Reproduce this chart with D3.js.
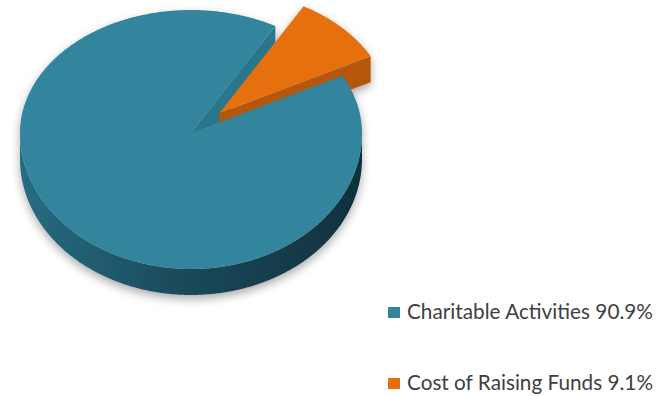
<!DOCTYPE html>
<html>
<head>
<meta charset="utf-8">
<script src="https://cdn.jsdelivr.net/npm/d3@7"></script>
<style>
  html, body { margin: 0; padding: 0; background: #ffffff; }
  svg { display: block; }
</style>
</head>
<body>
<svg id="chart" width="671" height="396"></svg>
<script>
// ---- data ----
const categories = ["Charitable Activities", "Cost of Raising Funds"];
const values = [90.9, 9.1];
const valueLabels = ["90.9%", "9.1%"];

// ---- style / layout ----
const topColors = ["#31859C", "#E66F0C"];
const cutColors = ["#29768C", "#B5560A"];
const explodeBy = [0, 0.23];
const W = 671, H = 396;
const cx = 191, cy = 133, rx = 171, ryTop = 123, ryBot = 136, depth = 26;
const startDeg = 62.3;

const svg = d3.select("#chart");
const defs = svg.append("defs");

const f = defs.append("filter").attr("id", "shadow")
  .attr("x", "-20%").attr("y", "-20%").attr("width", "140%").attr("height", "140%");
f.append("feDropShadow").attr("dx", 0).attr("dy", 4).attr("stdDeviation", 5)
  .attr("flood-color", "#000").attr("flood-opacity", 0.33);

const grads = [
  [["0", "#276C82"], ["0.45", "#1B4B5C"], ["1", "#10303C"]],
  [["0", "#C45E0B"], ["1", "#9C4808"]]
];
grads.forEach((stops, i) => {
  const g = defs.append("linearGradient").attr("id", "wall" + i)
    .attr("gradientUnits", "userSpaceOnUse")
    .attr("x1", cx - rx).attr("y1", 0).attr("x2", cx + rx).attr("y2", 0);
  stops.forEach(s => g.append("stop").attr("offset", s[0]).attr("stop-color", s[1]));
});

const start = startDeg * Math.PI / 180;
const arcs = d3.pie().sort(null).startAngle(start).endAngle(start + 2 * Math.PI)(values);

function ryAt(a) { return Math.cos(a) >= 0 ? ryTop : ryBot; }
function P(a, r, z, off) {
  return [cx + off[0] + r * rx * Math.sin(a), cy + off[1] - r * ryAt(a) * Math.cos(a) + z];
}
function arcPts(a0, a1, z, off) {
  const n = Math.max(2, Math.ceil(Math.abs(a1 - a0) / (Math.PI / 360)) + 1);
  return d3.range(n).map(i => P(a0 + (a1 - a0) * i / (n - 1), 1, z, off));
}
const line = d3.line();

const pieG = svg.append("g").attr("filter", "url(#shadow)");
const sidesG = pieG.append("g");
const topsG = pieG.append("g");

arcs.forEach((d, i) => {
  const a0 = d.startAngle, a1 = d.endAngle;
  const mid = (a0 + a1) / 2;
  const k = explodeBy[i];
  const off = [k * rx * Math.sin(mid), -k * ryAt(mid) * Math.cos(mid)];
  const c0 = [cx + off[0], cy + off[1]];

  // outer wall (front-facing parts)
  for (let m = -1; m <= 2; m++) {
    const lo = Math.max(a0, Math.PI / 2 + 2 * Math.PI * m);
    const hi = Math.min(a1, 3 * Math.PI / 2 + 2 * Math.PI * m);
    if (lo < hi) {
      const pts = arcPts(lo, hi, 0, off).concat(arcPts(lo, hi, depth, off).reverse());
      sidesG.append("path").attr("d", line(pts) + "Z").attr("fill", "url(#wall" + i + ")");
    }
  }
  // cut faces
  const cut = a => {
    const r0 = P(a, 1, 0, off), r1 = P(a, 1, depth, off);
    const pts = [c0, r0, r1, [c0[0], c0[1] + depth]];
    sidesG.append("path").attr("d", line(pts) + "Z").attr("fill", cutColors[i]);
  };
  if (Math.sin(a0) < 0) cut(a0);
  if (Math.sin(a1) > 0) cut(a1);

  // top face
  const topPts = [c0].concat(arcPts(a0, a1, 0, off));
  topsG.append("path").attr("d", line(topPts) + "Z").attr("fill", topColors[i]);
});

// tops: teal last so it covers exploded slice's wall
const firstTop = topsG.selectAll("path").nodes()[0];
topsG.node().appendChild(firstTop);

// ---- legend ----
const legX = 388, legY = [319, 390], textX = 407, textW = 246;
const leg = svg.append("g");
categories.forEach((c, i) => {
  leg.append("rect").attr("x", legX).attr("y", legY[i] - 12).attr("width", 12).attr("height", 11)
    .attr("fill", topColors[i]);
  leg.append("text").attr("x", textX).attr("y", legY[i])
    .attr("font-family", "Lato, 'Open Sans', sans-serif").attr("font-size", 22)
    .attr("fill", "#404040")
    .attr("textLength", textW).attr("lengthAdjust", "spacingAndGlyphs")
    .text(c + " " + valueLabels[i]);
});
</script>
</body>
</html>
